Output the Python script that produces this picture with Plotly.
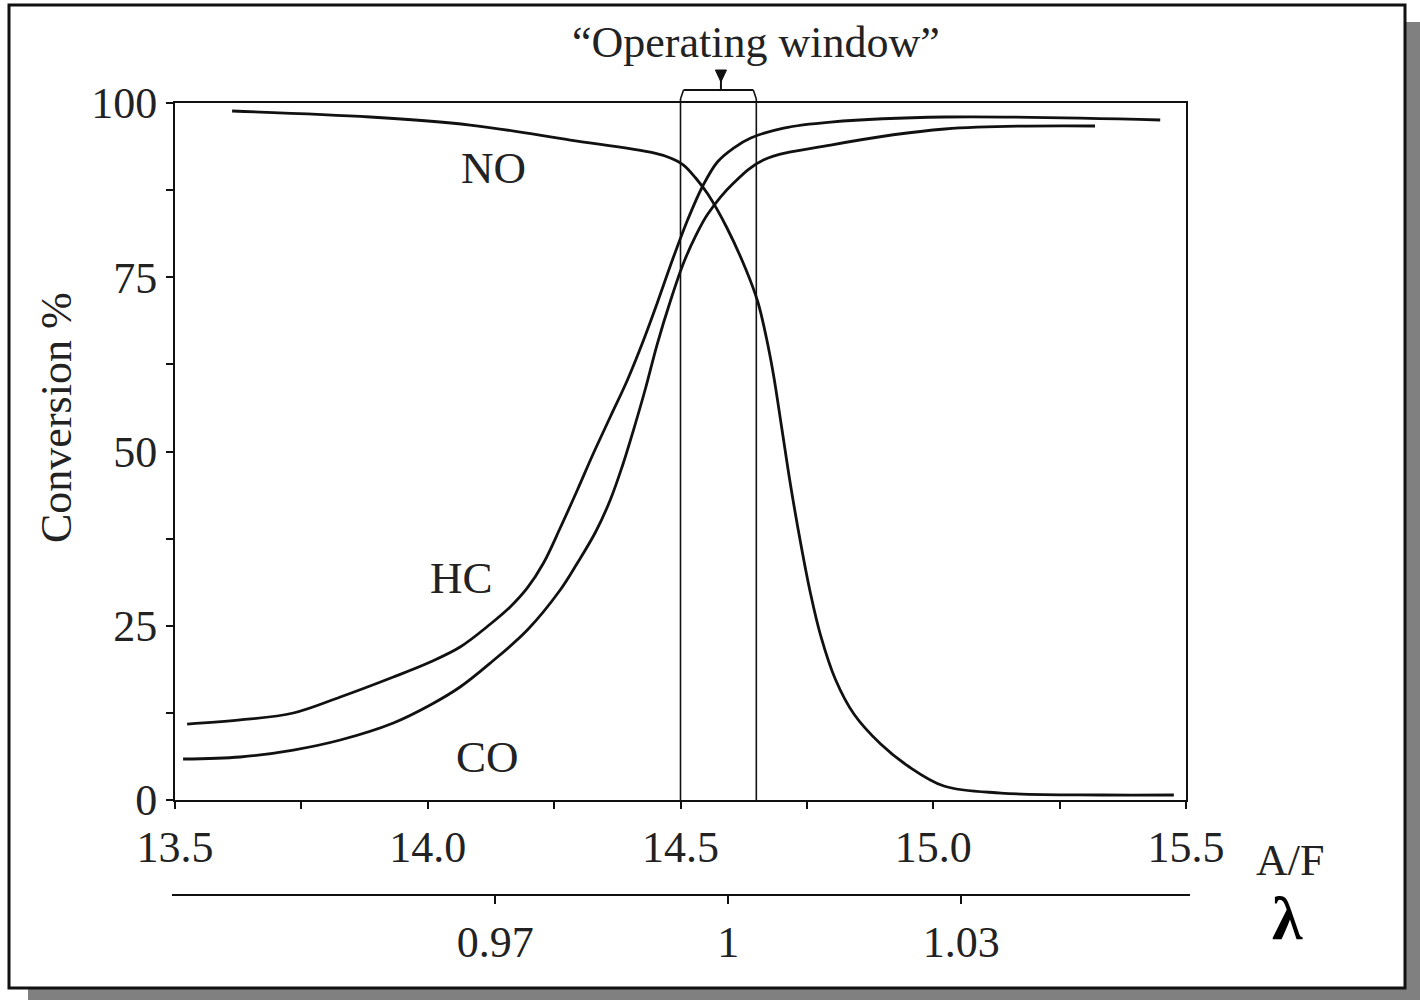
import plotly.graph_objects as go

# ---- data ----
no_af = [13.613, 13.886, 14.084, 14.282, 14.447, 14.480, 14.506, 14.530, 14.554, 14.591,
         14.629, 14.653, 14.670, 14.684, 14.700, 14.718, 14.738, 14.757, 14.777, 14.807,
         14.843, 14.896, 14.950, 15.021, 15.134, 15.332, 15.476]
no_conv = [98.85, 97.99, 96.84, 94.69, 92.83, 92.11, 91.10, 89.24, 86.94, 82.21,
           76.18, 71.45, 66.28, 60.98, 53.52, 45.05, 36.73, 29.70, 23.67, 17.22,
           12.34, 8.03, 4.88, 2.01, 1.00, 0.72, 0.72]

hc_af = [13.524, 13.629, 13.734, 13.827, 13.932, 14.005, 14.064, 14.124, 14.163, 14.197,
         14.229, 14.262, 14.296, 14.328, 14.361, 14.395, 14.427, 14.454, 14.484, 14.514,
         14.544, 14.573, 14.605, 14.639, 14.704, 14.797, 15.023, 15.449]
hc_conv = [10.90, 11.48, 12.48, 14.78, 17.65, 19.80, 21.95, 25.25, 27.69, 30.42,
           34.00, 39.02, 44.48, 49.78, 54.95, 60.26, 66.00, 71.31, 77.47, 83.21,
           88.09, 91.54, 93.54, 94.98, 96.41, 97.27, 97.99, 97.56]

co_af = [13.516, 13.629, 13.734, 13.827, 13.932, 14.005, 14.064, 14.124, 14.197, 14.262,
         14.296, 14.332, 14.361, 14.385, 14.407, 14.431, 14.454, 14.480, 14.506, 14.530,
         14.554, 14.605, 14.664, 14.797, 15.023, 15.320]
co_conv = [5.88, 6.17, 7.17, 8.61, 11.05, 13.63, 16.21, 19.66, 24.39, 30.13,
           34.00, 38.45, 43.04, 47.92, 53.08, 59.11, 65.42, 71.59, 77.04, 80.92,
           84.07, 88.52, 91.82, 93.97, 96.27, 96.70]

af_ticks = [13.5, 13.75, 14.0, 14.25, 14.5, 14.75, 15.0, 15.25, 15.5]
af_labels = ["13.5", "", "14.0", "", "14.5", "", "15.0", "", "15.5"]
y_ticks = [0, 12.5, 25, 37.5, 50, 62.5, 75, 87.5, 100]
y_labels = ["0", "", "25", "", "50", "", "75", "", "100"]
lam_ticks = [0.97, 1.0, 1.03]
lam_labels = ["0.97", "1", "1.03"]
lam_range = [0.92838, 1.05944]

window_af = [14.50, 14.65]
window_mid = 14.58

W, H = 1420, 1000
FONT = "Liberation Serif"
INK = "#111111"
TXT = "#222222"

def px(v):  # horizontal pixel -> paper
    return v / W

def py(v):  # vertical pixel (from top) -> paper
    return 1 - v / H

fig = go.Figure()
for xs, ys in [(no_af, no_conv), (hc_af, hc_conv), (co_af, co_conv)]:
    fig.add_trace(go.Scatter(x=xs, y=ys, mode="lines",
                             line=dict(color=INK, width=2.8, shape="spline", smoothing=1.0),
                             showlegend=False, hoverinfo="skip"))
# empty trace to host the lambda axis
fig.add_trace(go.Scatter(x=[], y=[], xaxis="x2", yaxis="y2", showlegend=False))

axis_common = dict(showgrid=False, zeroline=False, showline=True, linecolor=INK, linewidth=2,
                   ticks="outside", tickcolor=INK, tickwidth=2, automargin=False,
                   tickfont=dict(family=FONT, size=44, color=TXT))

fig.update_layout(
    width=W, height=H,
    margin=dict(l=0, r=0, t=0, b=0, pad=0, autoexpand=False),
    paper_bgcolor="white", plot_bgcolor="rgba(0,0,0,0)",
    xaxis=dict(domain=[px(175), px(1186)], range=[13.5, 15.5], tickmode="array",
               tickvals=af_ticks, ticktext=af_labels, ticklen=7, mirror=True,
               ticklabelstandoff=0, anchor="y", **axis_common),
    yaxis=dict(domain=[py(800), py(103)], range=[0, 100], tickmode="array",
               tickvals=y_ticks, ticktext=y_labels, ticklen=7, mirror=True,
               ticklabelstandoff=0, anchor="x", **axis_common),
    xaxis2=dict(domain=[px(172), px(1190)], range=lam_range, tickmode="array",
                tickvals=lam_ticks, ticktext=lam_labels, ticklen=8, anchor="y2",
                ticklabelstandoff=0, **axis_common),
    yaxis2=dict(domain=[py(894), py(893)], range=[0, 1], visible=False, anchor="x2"),
)

shapes = [
    # shadow and frame
    dict(type="rect", xref="paper", yref="paper", x0=px(28), x1=1.0, y0=0.0, y1=py(22),
         fillcolor="#808080", line=dict(width=0), layer="below"),
    dict(type="rect", xref="paper", yref="paper", x0=px(9), x1=px(1405), y0=py(988), y1=py(5),
         fillcolor="white", line=dict(color=INK, width=3), layer="below"),
]
# operating window: vertical lines + bracket on top
wl, wr = window_af
top = py(90)
corner = py(99)
for xv in (wl, wr):
    shapes.append(dict(type="line", xref="x", yref="y", x0=xv, x1=xv, y0=0, y1=100,
                       line=dict(color=INK, width=1.6)))
    shapes.append(dict(type="line", xref="x", yref="paper", x0=xv, x1=xv, y0=py(103), y1=corner,
                       line=dict(color=INK, width=1.6)))
shapes.append(dict(type="line", xref="x", yref="paper", x0=wl + 0.006, x1=wr - 0.006, y0=top, y1=top,
                   line=dict(color=INK, width=1.8)))
shapes.append(dict(type="line", xref="x", yref="paper", x0=wl, x1=wl + 0.006, y0=corner, y1=top,
                   line=dict(color=INK, width=1.6)))
shapes.append(dict(type="line", xref="x", yref="paper", x0=wr, x1=wr - 0.006, y0=corner, y1=top,
                   line=dict(color=INK, width=1.6)))
# arrow pointing down to the bracket
shapes.append(dict(type="line", xref="x", yref="paper", x0=window_mid, x1=window_mid,
                   y0=py(76), y1=top, line=dict(color=INK, width=2)))
d = 0.011
shapes.append(dict(type="path", xref="x", yref="paper",
                   path=f"M {window_mid - d} {py(70)} L {window_mid + d} {py(70)} L {window_mid} {py(82)} Z",
                   fillcolor=INK, line=dict(color=INK, width=1)))
fig.update_layout(shapes=shapes)

ann = []
def text(x, y, s, size=45, xref="x", yref="y", **kw):
    ann.append(dict(x=x, y=y, xref=xref, yref=yref, text=s, showarrow=False,
                    xanchor="center", yanchor="middle",
                    font=dict(family=FONT, size=size, color=TXT), **kw))

text(14.13, 90.7, "NO")
text(14.066, 31.9, "HC")
text(14.118, 6.2, "CO")
text(14.65, py(42), "\u201COperating window\u201D", size=44, yref="paper")
text(px(57), py(418), "Conversion %", size=44, xref="paper", yref="paper", textangle=-90)
text(px(1290), py(860), "A/F", size=44, xref="paper", yref="paper")
ann.append(dict(x=px(1287), y=py(918), xref="paper", yref="paper", text="<b>\u03bb</b>",
                xanchor="center", yanchor="middle",
                showarrow=False, font=dict(family=FONT, size=62, color="black")))
fig.update_layout(annotations=ann)

fig.write_html("out.html")
